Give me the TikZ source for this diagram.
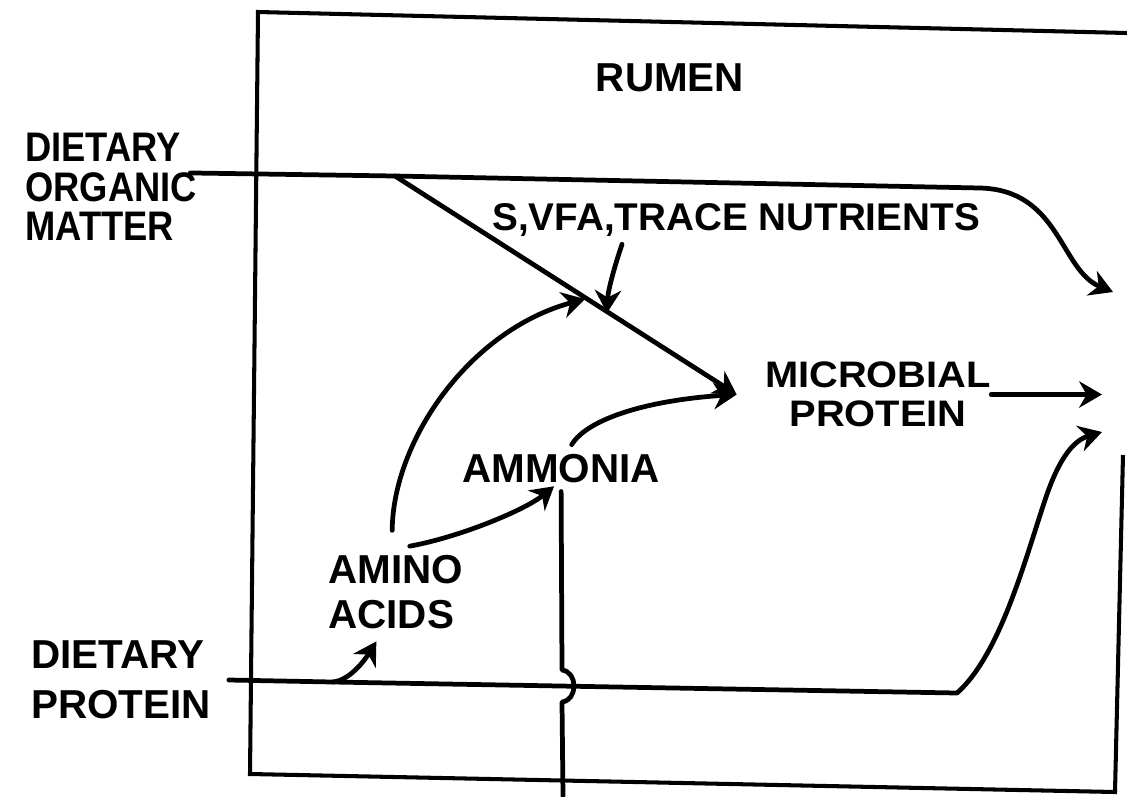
\documentclass[tikz,border=0pt]{standalone}
\usepackage{fontspec}
\setmainfont{Liberation Sans}
\newfontfamily\narrowsans[FakeStretch=0.88]{Liberation Sans}
\newfontfamily\widesans[FakeStretch=1.08]{Liberation Sans}
\usetikzlibrary{arrows.meta}
\tikzset{
  lbl/.style={inner sep=0pt, font=\bfseries\fontsize{23pt}{28pt}\selectfont},
  plain/.style={line width=2.7pt, line cap=round, line join=round},
  flow/.style={plain, -{Stealth[length=13pt,width=15pt]}},
  wall/.style={line width=2.3pt, line join=miter}
}
\begin{document}
\begin{tikzpicture}[x=0.02cm,y=-0.02cm]
\useasboundingbox (0,0) rectangle (1127,796);
\draw[wall] (1127,33) -- (258,12) -- (250,774) -- (1115,792) -- (1123,455);
\node[lbl] (rum) at (670,78) {RUMEN};
\node[lbl, align=left, anchor=west, font=\narrowsans\bfseries\fontsize{23.5pt}{22.5pt}\selectfont] (om) at (25,187) {DIETARY\\ORGANIC\\MATTER};
\node[lbl, font=\bfseries\fontsize{22pt}{26pt}\selectfont, anchor=base west] (svfa) at (492,230) {S,VFA,TRACE NUTRIENTS};
\node[lbl, align=center, font=\widesans\bfseries\fontsize{21pt}{22pt}\selectfont] (mp) at (878,394.5) {MICROBIAL\\PROTEIN};
\node[lbl, anchor=base west] (nh) at (462,482) {AMMONIA};
\node[lbl, align=left, anchor=west, font=\bfseries\fontsize{23pt}{25.5pt}\selectfont] (aa) at (328,592) {AMINO\\ACIDS};
\node[lbl, align=left, anchor=west, font=\bfseries\fontsize{23pt}{28.3pt}\selectfont] (dp) at (31,680) {DIETARY\\PROTEIN};
\coordinate (omsplit) at (395,176);
\coordinate (j1) at (585,299);
\coordinate (j2) at (607,313);
\coordinate (o1) at (1113,292);
\coordinate (o2) at (1102,394.5);
\coordinate (o3) at (1102,432);
\coordinate (dpsplit) at (333,682);
\coordinate (bend) at (957,693);
\coordinate (o4) at (563,796);
\draw[flow] ([xshift=-4pt,yshift=8pt]om.east) -- (omsplit) -- (980,188) .. controls (1060,190) and (1060,270) .. (o1);
\draw[flow] (omsplit) -- ([xshift=-16pt]mp.west);
\draw[flow] ([xshift=74pt,yshift=-4.5pt]svfa.south west) .. controls (615,265) and (608,290) .. (j2);
\draw[flow] ([xshift=-2pt,yshift=14pt]aa.north) .. controls (393,440) and (470,330) .. (j1);
\draw[flow] ([xshift=8pt,yshift=5pt]aa.north) .. controls (460,537) and (525,510) .. ([xshift=-4pt,yshift=-2pt]nh.south);
\draw[flow] ([xshift=6pt,yshift=5pt]nh.north) .. controls (588,418) and (650,400) .. ([xshift=-16pt]mp.west);
\draw[flow] (mp.east) -- (o2);
\draw[flow] ([xshift=10pt]dp.east) -- (dpsplit) -- (bend) .. controls (1000,655) and (1025,560) .. (1045,500) .. controls (1060,455) and (1075,440) .. (o3);
\draw[flow] (dpsplit) .. controls (352,680) and (368,655) .. ([xshift=-11pt,yshift=-7pt]aa.south);
\draw[plain] ([yshift=-5pt]nh.south) -- (562,670) .. controls (578,672) and (578,700) .. (562,702) -- (o4);
\end{tikzpicture}
\end{document}
